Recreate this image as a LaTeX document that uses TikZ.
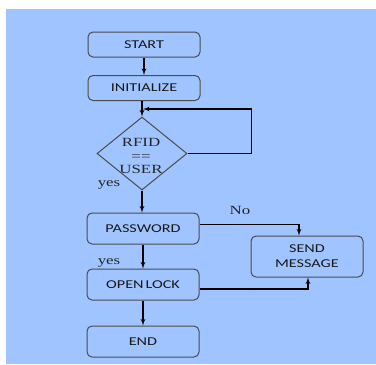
\documentclass[tikz,border=0pt]{standalone}
\usepackage{fontspec}
\setmainfont{Liberation Serif}[FakeStretch=1.35]
\newfontfamily\boxfont{Carlito}[FakeStretch=1.35]
\usetikzlibrary{arrows, shapes.geometric}
\definecolor{bgblue}{RGB}{160,196,255}

\begin{document}
\begin{tikzpicture}[x=1pt, y=-1pt]

\tikzset{block/.style = {shape=rectangle, rounded corners=5pt, draw=black!70, line width=1pt,
  minimum width=112pt, minimum height=31pt, inner sep=0pt, text=black!90,
  font=\boxfont\fontsize{12}{15}\selectfont, align=center}}
\tikzset{decision/.style = {shape=diamond, draw=black!70, line width=1pt,
  minimum width=90pt, minimum height=73pt, inner sep=0pt}}
\tikzset{serif/.style = {font=\fontsize{12.5}{13.5}\selectfont, text=black!85, inner sep=0pt}}
\tikzset{edge/.style = {->, > = latex', line width=1.2pt}}

\useasboundingbox (0,0) rectangle (376,365);
\fill[bgblue] (6,9) rectangle (376,364);

%verticies
\node[block, minimum height=25pt] (start) at (144,44.5) {START};
\node[block, minimum height=25pt] (init) at (144,88) {INITIALIZE};
\node[decision] (dec) at (142,153.5) {};
\node[serif, align=center] (dectext) at (141,156) {RFID\\==\\USER};
\node[block] (pass) at (143,228.5) {PASSWORD};
\node[block, minimum height=41pt] (send) at (307,256.5) {SEND\\MESSAGE};
\node[block] (open) at (143,284.5) {OPEN\,LOCK};
\node[block] (end) at (143,341.5) {END};
\coordinate (join) at (143,109);
%labels
\node[serif] (yes1) at (109,185) {yes};
\node[serif] (yes2) at (109,263) {yes};
\node[serif] (no) at (240,210) {No};
%edges
\draw[edge] (start) -- (init);
\draw[edge] (init.south -| dec.north) -- (dec.north);
\draw[edge] (dec.east) -- ++(64,0) |- (join);
\draw[edge] (dec.south) -- (pass.north -| dec.south);
\draw[edge] ([yshift=4pt]pass.east) -| ([xshift=-8pt]send.north);
\draw[edge] (pass) -- (open);
\draw[edge] ([yshift=-4.5pt]open.east) -| ([xshift=1pt]send.south);
\draw[edge] (open) -- (end);

\end{tikzpicture}
\end{document}
